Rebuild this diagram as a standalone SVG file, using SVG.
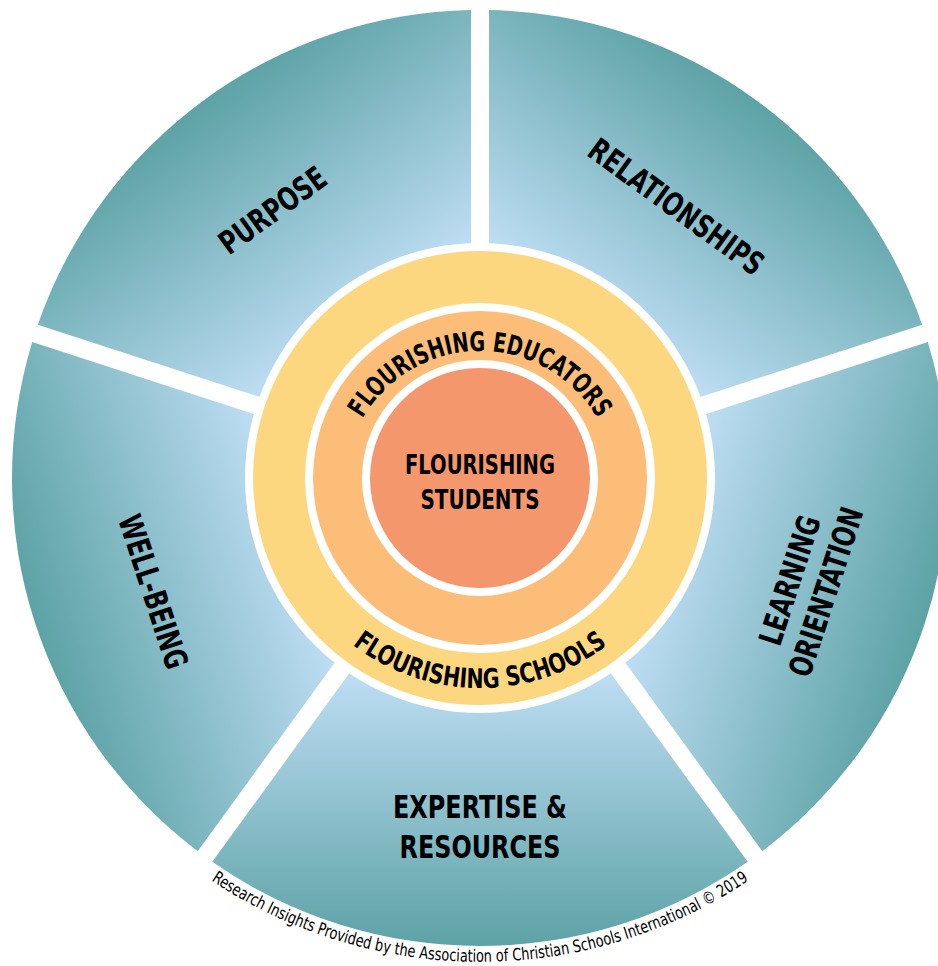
<svg xmlns="http://www.w3.org/2000/svg" xmlns:xlink="http://www.w3.org/1999/xlink" width="938" height="966" viewBox="0 0 938 966">
  <style>
    .lbl { font-family: "Liberation Sans Narrow", "DejaVu Sans Condensed", "Liberation Sans", sans-serif; font-weight: bold; font-size: 32px; fill: #000; text-anchor: middle; }
    .inner { font-family: "Liberation Sans Narrow", "DejaVu Sans Condensed", "Liberation Sans", sans-serif; font-weight: bold; font-size: 27px; fill: #000; text-anchor: middle; }
    .ring { font-family: "Liberation Sans Narrow", "DejaVu Sans Condensed", "Liberation Sans", sans-serif; font-weight: bold; font-size: 27px; fill: #000; text-anchor: middle; }
    .foot { font-family: "Liberation Sans Narrow", "DejaVu Sans Condensed", "Liberation Sans", sans-serif; font-size: 17px; fill: #000; text-anchor: middle; }
  </style>
  <defs>
    <linearGradient id="gRel" gradientUnits="userSpaceOnUse" x1="597.6" y1="316.2" x2="756.3" y2="97.8">
      <stop offset="0" stop-color="#bcdcf2"/><stop offset="1" stop-color="#5ca2a5"/>
    </linearGradient>
    <linearGradient id="gLrn" gradientUnits="userSpaceOnUse" x1="670.2" y1="539.8" x2="927" y2="623.2">
      <stop offset="0" stop-color="#bcdcf2"/><stop offset="1" stop-color="#5ca2a5"/>
    </linearGradient>
    <linearGradient id="gExp" gradientUnits="userSpaceOnUse" x1="480" y1="678" x2="480" y2="948">
      <stop offset="0" stop-color="#bcdcf2"/><stop offset="1" stop-color="#5ca2a5"/>
    </linearGradient>
    <linearGradient id="gWel" gradientUnits="userSpaceOnUse" x1="289.8" y1="539.8" x2="33" y2="623.2">
      <stop offset="0" stop-color="#bcdcf2"/><stop offset="1" stop-color="#5ca2a5"/>
    </linearGradient>
    <linearGradient id="gPur" gradientUnits="userSpaceOnUse" x1="362.4" y1="316.2" x2="203.7" y2="97.8">
      <stop offset="0" stop-color="#bcdcf2"/><stop offset="1" stop-color="#5ca2a5"/>
    </linearGradient>
    <path id="pEdu" d="M 344 487 A 136 136 0 0 1 616 487"/>
    <path id="pSch" d="M 270 478 A 210 210 0 0 0 690 478"/>
    <path id="pFoot" d="M -4 478 A 484 484 0 0 0 964 478"/>
  </defs>
  <rect width="938" height="966" fill="#ffffff"/>

  <g id="seg-relationships">
    <path d="M 489 465.6 L 489 10.09 A 468 468 0 0 1 922.23 324.85 Z" fill="url(#gRel)"/>
    <text class="lbl" transform="translate(676.5,206.5) rotate(36)" y="11.5" textLength="208" lengthAdjust="spacingAndGlyphs">RELATIONSHIPS</text>
  </g>
  <g id="seg-learning">
    <path d="M 494.56 482.73 L 927.79 341.97 A 468 468 0 0 1 762.31 851.26 Z" fill="url(#gLrn)"/>
    <g transform="translate(807.5,586) rotate(-72)">
      <text class="lbl" y="-7.5" textLength="134" lengthAdjust="spacingAndGlyphs">LEARNING</text>
      <text class="lbl" y="30.5" textLength="176" lengthAdjust="spacingAndGlyphs">ORIENTATION</text>
    </g>
  </g>
  <g id="seg-expertise">
    <path d="M 480 493.31 L 747.75 861.84 A 468 468 0 0 1 212.25 861.84 Z" fill="url(#gExp)"/>
    <text class="lbl" x="480" y="818" textLength="174" lengthAdjust="spacingAndGlyphs">EXPERTISE &amp;</text>
    <text class="lbl" x="480" y="858" textLength="161" lengthAdjust="spacingAndGlyphs">RESOURCES</text>
  </g>
  <g id="seg-wellbeing">
    <path d="M 465.44 482.73 L 197.69 851.26 A 468 468 0 0 1 32.21 341.97 Z" fill="url(#gWel)"/>
    <text class="lbl" transform="translate(153.5,591.5) rotate(72)" y="11.5" textLength="160" lengthAdjust="spacingAndGlyphs">WELL-BEING</text>
  </g>
  <g id="seg-purpose">
    <path d="M 471 465.61 L 37.77 324.85 A 468 468 0 0 1 471 10.09 Z" fill="url(#gPur)"/>
    <text class="lbl" transform="translate(272.5,210) rotate(-36)" y="11.5" textLength="124" lengthAdjust="spacingAndGlyphs">PURPOSE</text>
  </g>

  <g id="ring-schools">
    <circle cx="480" cy="478" r="235" fill="#ffffff"/>
    <circle cx="480" cy="478" r="227" fill="#fdd680"/>
    <text class="ring"><textPath href="#pSch" xlink:href="#pSch" startOffset="50%" textLength="274" lengthAdjust="spacingAndGlyphs">FLOURISHING SCHOOLS</textPath></text>
  </g>
  <g id="ring-educators">
    <circle cx="480" cy="478" r="175" fill="#ffffff"/>
    <circle cx="480" cy="478" r="167" fill="#fbbd78"/>
    <text class="ring"><textPath href="#pEdu" xlink:href="#pEdu" startOffset="50%" textLength="284" lengthAdjust="spacingAndGlyphs">FLOURISHING EDUCATORS</textPath></text>
  </g>
  <g id="core-students">
    <circle cx="480" cy="478" r="118" fill="#ffffff"/>
    <circle cx="480" cy="478" r="110" fill="#f5976d"/>
    <text class="inner" x="480" y="473.5" textLength="150" lengthAdjust="spacingAndGlyphs">FLOURISHING</text>
    <text class="inner" x="480" y="508.5" textLength="119" lengthAdjust="spacingAndGlyphs">STUDENTS</text>
  </g>

  <g id="footer">
    <text class="foot"><textPath href="#pFoot" xlink:href="#pFoot" startOffset="50%" textLength="570" lengthAdjust="spacingAndGlyphs">Research Insights Provided by the Association of Christian Schools International © 2019</textPath></text>
  </g>
</svg>
